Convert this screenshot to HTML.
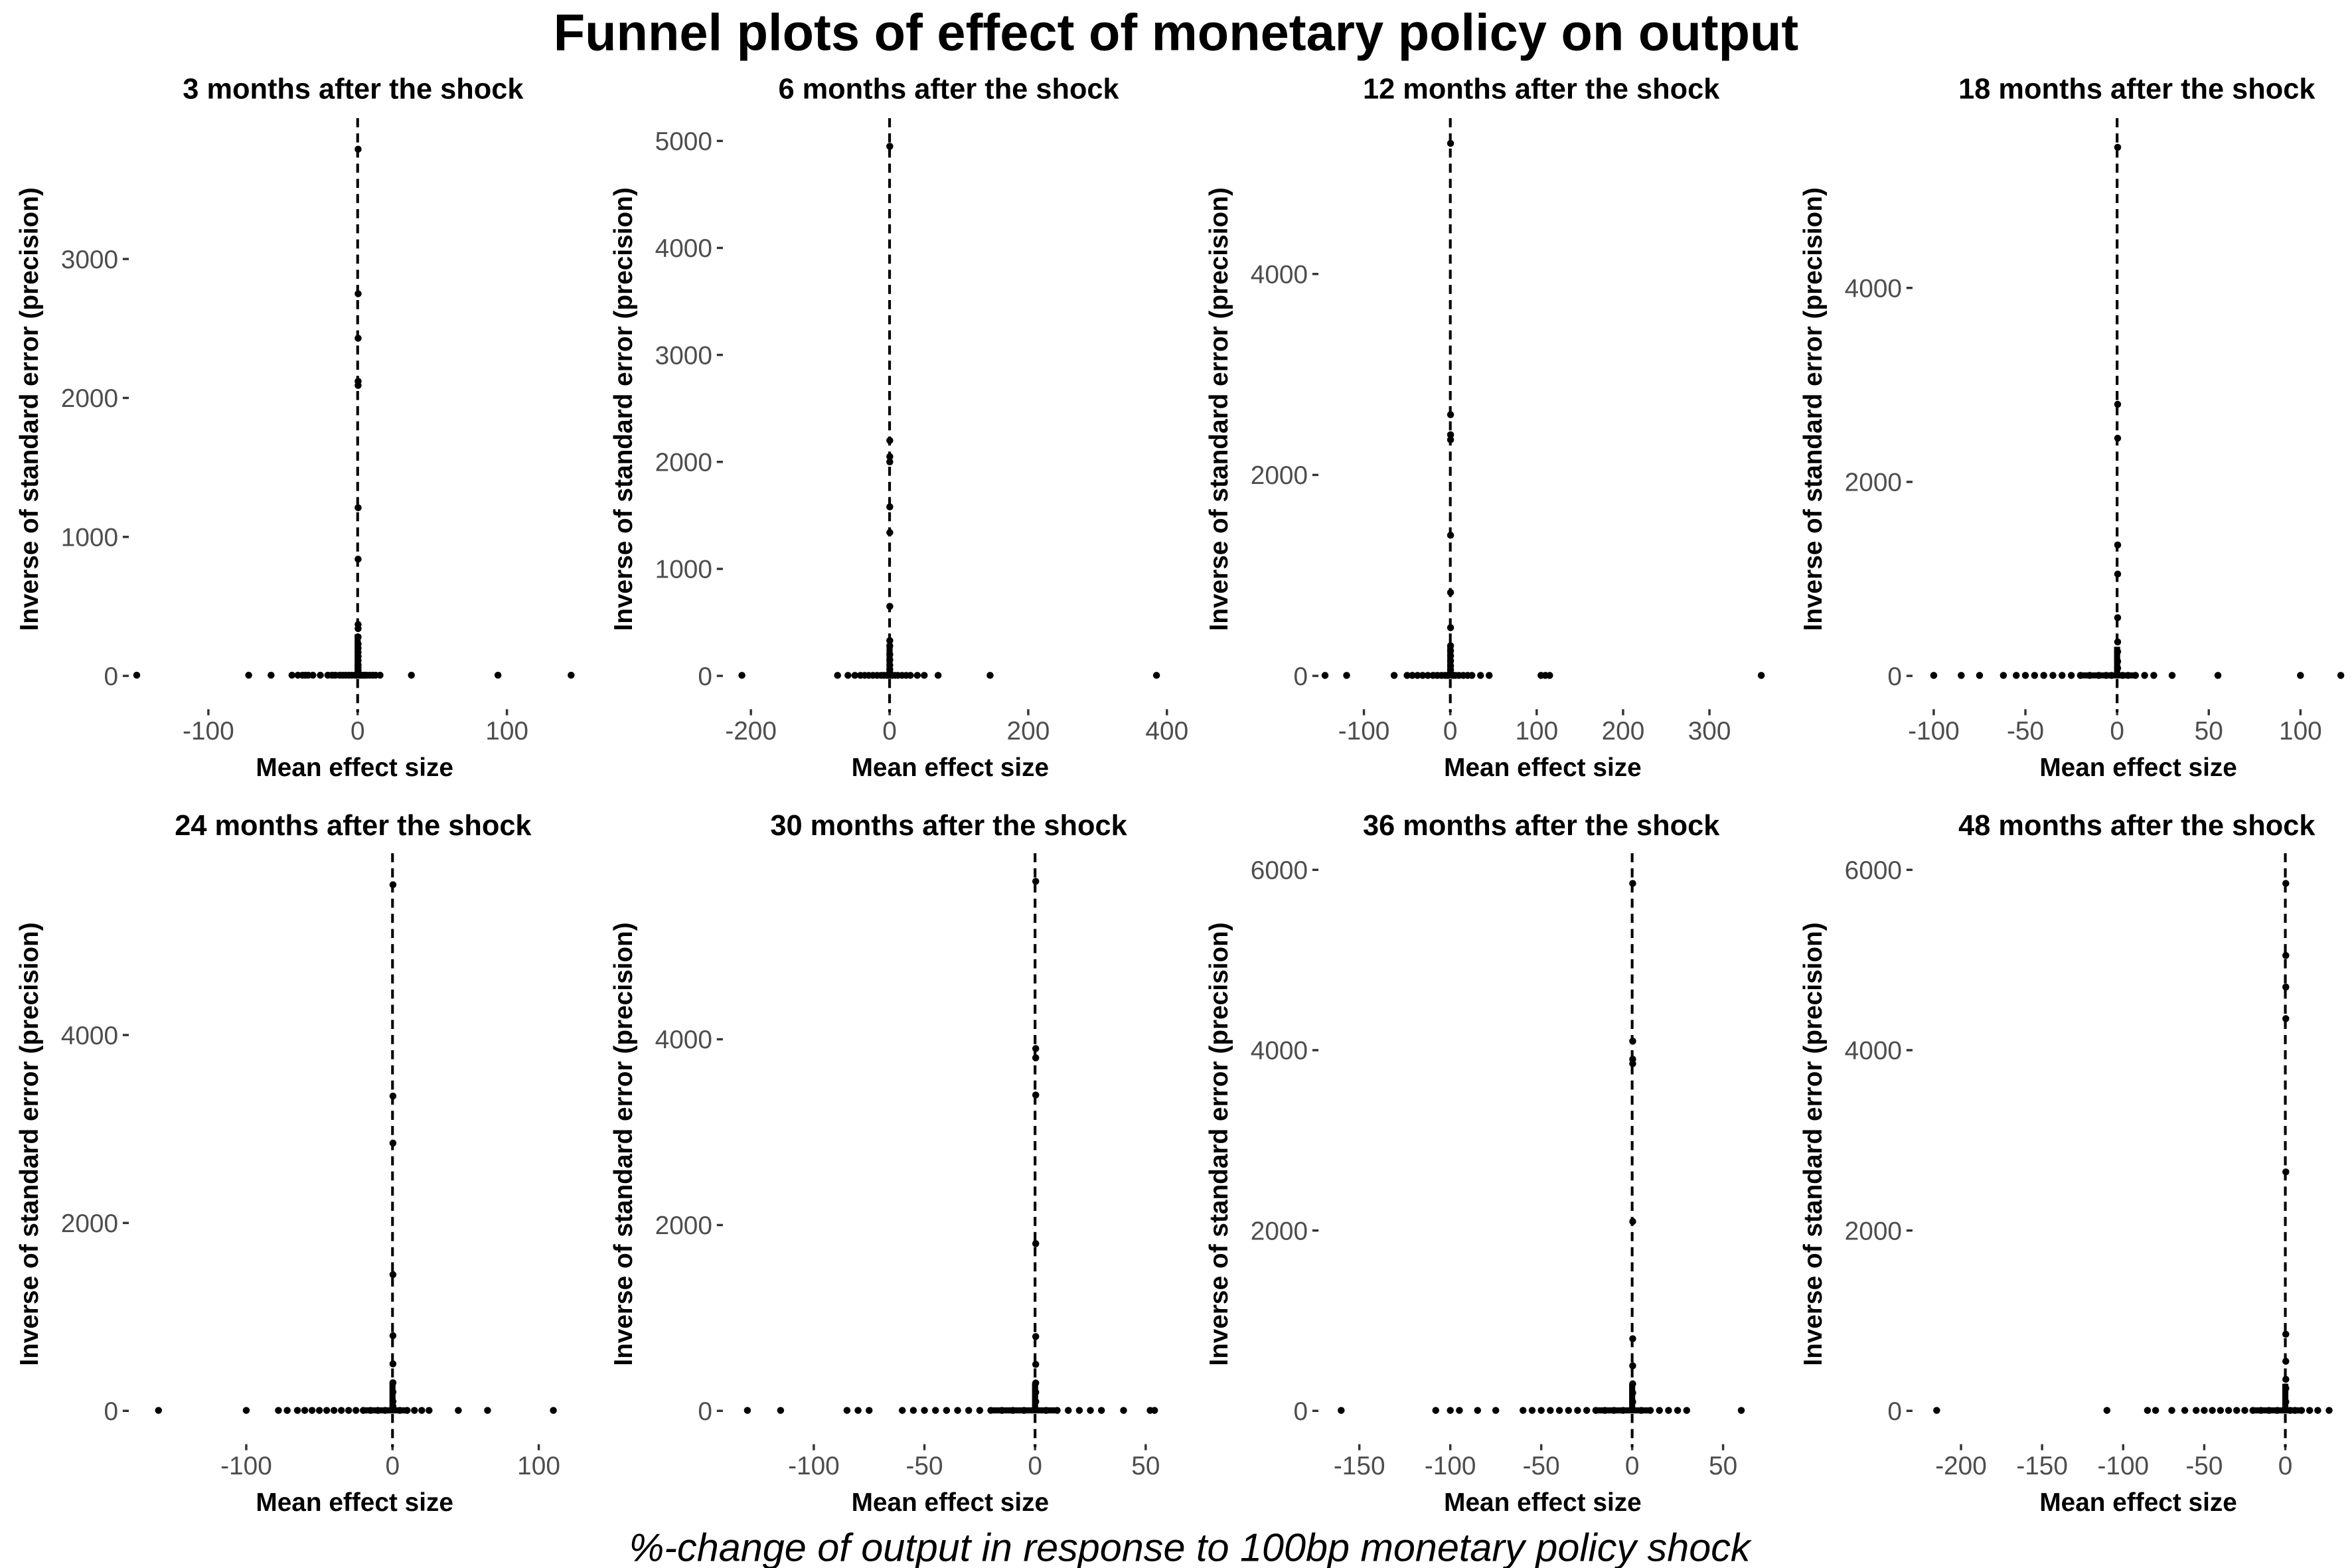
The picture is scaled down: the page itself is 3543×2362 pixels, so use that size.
<!DOCTYPE html>
<html><head><meta charset="utf-8">
<style>
html,body{margin:0;padding:0;background:#fff;}
svg{display:block;font-family:"Liberation Sans",Arial,sans-serif;}
</style></head>
<body>
<svg id="chart" width="3543" height="2362" viewBox="0 0 1552 1034.7" preserveAspectRatio="none" xmlns="http://www.w3.org/2000/svg">
<rect width="1552" height="1035" fill="#fff"/>
<text x="776" y="33" text-anchor="middle" font-size="34" font-weight="bold">Funnel plots of effect of monetary policy on output</text>
<text x="785" y="1030" text-anchor="middle" font-size="26" font-style="italic">%-change of output in response to 100bp monetary policy shock</text>
<g id="panels"></g>
</svg>
<script>
// ---- data (effect size, precision) per panel ----
const titles = ["3 months after the shock","6 months after the shock","12 months after the shock","18 months after the shock","24 months after the shock","30 months after the shock","36 months after the shock","48 months after the shock"];
const xTicks = [[-100,0,100],[-200,0,200,400],[-100,0,100,200,300],[-100,-50,0,50,100],[-100,0,100],[-100,-50,0,50],[-150,-100,-50,0,50],[-200,-150,-100,-50,0]];
const yTicks = [[0,1000,2000,3000],[0,1000,2000,3000,4000,5000],[0,2000,4000],[0,2000,4000],[0,2000,4000],[0,2000,4000],[0,2000,4000,6000],[0,2000,4000,6000]];
const highPrec = [
 [3790,2750,2430,2120,2090,1210,840,370,340,280,230,200,170,140,110,80,60,40,20],
 [4950,2200,2050,2000,1580,1340,650,330,280,200,150,100,60,30],
 [5300,2600,2400,2350,1400,830,480,300,250,200,150,100,60,30],
 [5450,2800,2450,1350,1050,600,350,250,150,80],
 [5600,3350,2850,1450,800,500,300,200,100,50],
 [5700,3900,3800,3400,1800,800,500,300,200,100],
 [5850,4100,3900,3850,2100,800,500,300,200,100],
 [5850,5050,4700,4350,2650,850,550,350,250,100]
];
const lowEffects = [
 [-148,-73,-58,-44,-40,-37,-35,-33,-30,-25,-20,-17,-15,-12,-10,-8,-6,-4,-2,-1,1,2,3,4,5,6,8,10,12,15,36,94,143],
 [-213,-75,-60,-50,-42,-36,-30,-24,-18,-12,-8,-4,-2,2,4,8,12,18,24,30,40,50,70,145,385],
 [-145,-120,-65,-50,-44,-38,-32,-26,-20,-15,-10,-6,-3,3,6,10,15,20,25,35,45,105,110,115,360],
 [-100,-85,-75,-62,-55,-50,-45,-40,-35,-30,-25,-20,-15,-10,-6,-3,3,6,10,15,20,30,55,100,122],
 [-160,-100,-78,-72,-65,-60,-55,-50,-45,-40,-35,-30,-25,-20,-15,-10,-5,5,10,15,20,25,45,65,110],
 [-130,-115,-85,-80,-75,-60,-55,-50,-45,-40,-35,-30,-25,-20,-15,-10,-5,5,10,15,20,25,30,40,52,54],
 [-160,-108,-100,-95,-85,-75,-60,-55,-50,-45,-40,-35,-30,-25,-20,-15,-10,-5,5,10,15,20,25,30,60],
 [-215,-110,-85,-80,-70,-62,-55,-50,-45,-40,-35,-30,-25,-20,-15,-10,-5,3,6,10,15,20,27]
];
const lowPrec = 5;

// ---- layout (display units) ----
const lay = [
 {cx:233,axX:85, x0:236, kx:0.985, y0:446, ky:0.0917, top:78, row:0},
 {cx:626,axX:477,x0:587, kx:0.4575,y0:446, ky:0.0706, top:78, row:0},
 {cx:1017,axX:870,x0:957,kx:0.57,  y0:446, ky:0.0663, top:78, row:0},
 {cx:1410,axX:1262,x0:1397,kx:1.21,y0:446, ky:0.064,  top:78, row:0},
 {cx:233,axX:85, x0:259, kx:0.965, y0:931, ky:0.062,  top:563, row:1},
 {cx:626,axX:477,x0:683, kx:1.46,  y0:931, ky:0.0613, top:563, row:1},
 {cx:1017,axX:870,x0:1077,kx:1.2,  y0:931, ky:0.0595, top:563, row:1},
 {cx:1410,axX:1262,x0:1508,kx:1.07,y0:931, ky:0.0595, top:563, row:1}
];
const NS="http://www.w3.org/2000/svg";
const root=document.getElementById('panels');
function mk(tag,attrs,parent){const e=document.createElementNS(NS,tag);for(const k in attrs)e.setAttribute(k,attrs[k]);parent.appendChild(e);return e;}
lay.forEach((L,i)=>{
  const g=mk('g',{},root);
  
  
  const sx=v=>L.x0+v*L.kx, sy=v=>L.y0-v*L.ky;
  const titleY = L.row===0?65:551;
  const t=mk('text',{x:L.cx,y:titleY,'text-anchor':'middle','font-size':19,'font-weight':'bold'},g);
  t.textContent=titles[i];
  
  
  const yt=mk('text',{x:0,y:0,'text-anchor':'middle','font-size':17,'font-weight':'bold',transform:`translate(${L.axX-60},${L.row===0?270:755}) rotate(-90)`},g);
  yt.textContent='Inverse of standard error (precision)';
  
  
  yTicks[i].forEach(v=>{
    const y=sy(v);
    mk('line',{x1:L.axX-4,x2:L.axX,y1:y,y2:y,stroke:'#333','stroke-width':1.5},g);
    const tl=mk('text',{x:L.axX-7,y:y+6,'text-anchor':'end','font-size':17,fill:'#4d4d4d'},g);
    tl.textContent=v;
    
    
  });
  const tickTop=L.y0+22;
  xTicks[i].forEach(v=>{
    const x=sx(v);
    mk('line',{x1:x,x2:x,y1:tickTop,y2:tickTop+4,stroke:'#333','stroke-width':1.5},g);
    const tl=mk('text',{x:x,y:tickTop+20,'text-anchor':'middle','font-size':17,fill:'#4d4d4d'},g);
    tl.textContent=v;
    
    
  });
  const xt=mk('text',{x:L.cx+1,y:tickTop+44,'text-anchor':'middle','font-size':17,'font-weight':'bold'},g);
  xt.textContent='Mean effect size';
  
  
  const dl=mk('line',{x1:sx(0),x2:sx(0),y1:L.top,y2:tickTop+2,stroke:'#000','stroke-width':1.8,'stroke-dasharray':'6,4'},g);
  
  
  const pts=mk('g',{},g);
  
  
  lowEffects[i].forEach(v=>{
    const c=mk('circle',{cx:sx(v),cy:sy(lowPrec),r:2.3,fill:'#000'},pts);
    
  });
  highPrec[i].forEach(p=>{
    const c=mk('circle',{cx:sx(0.3),cy:sy(p),r:2.3,fill:'#000'},pts);
    
  });
  mk('rect',{x:sx(0)-2,y:sy(300),width:4,height:300*L.ky,fill:'#000'},pts);
  mk('rect',{x:sx(-20),y:sy(lowPrec)-2,width:sx(10)-sx(-20),height:4,fill:'#000'},pts);
});
</script>
</body></html>
